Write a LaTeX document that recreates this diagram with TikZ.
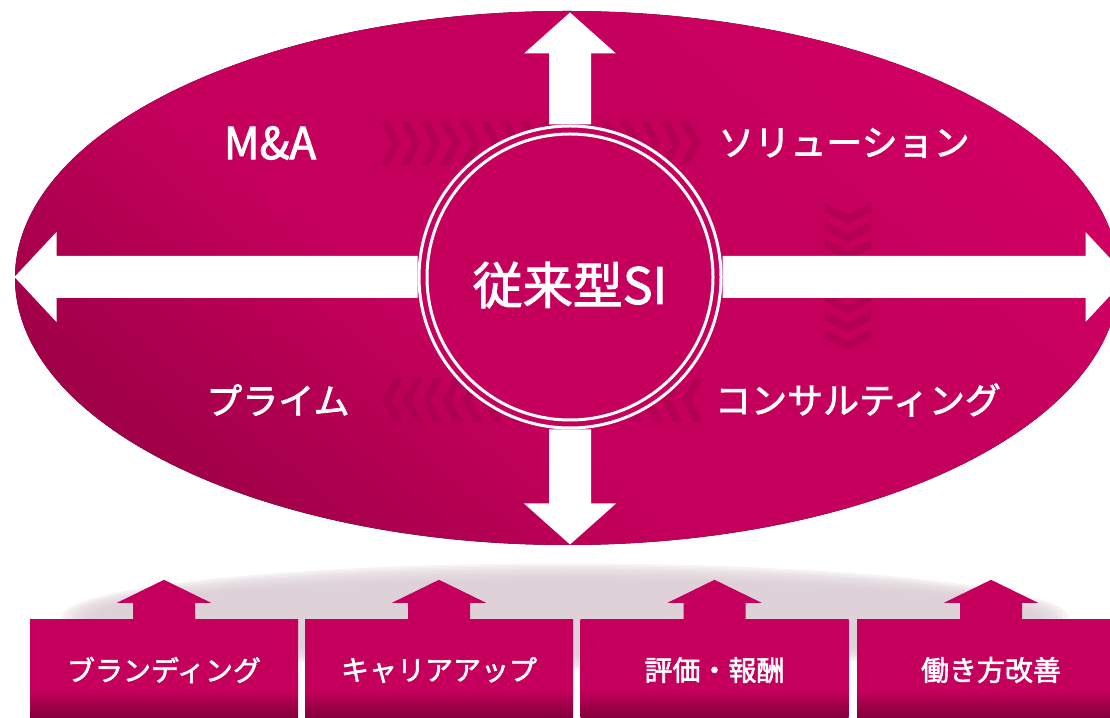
\documentclass[tikz,border=0pt]{standalone}
\usepackage{fontspec}
\setmainfont{Noto Sans CJK JP}[FakeBold=2]
\usetikzlibrary{positioning}

\definecolor{magmain}{RGB}{196,0,92}
\definecolor{magbright}{RGB}{208,0,98}
\definecolor{magdark}{RGB}{160,0,72}
\definecolor{magdeep}{RGB}{125,0,56}
\definecolor{shadowpink}{RGB}{218,204,212}

\pgfdeclareverticalshading{ovalshade}{100bp}{color(0bp)=(magdark); color(25bp)=(magdark);
  color(42bp)=(magmain); color(62bp)=(magmain); color(75bp)=(magbright); color(100bp)=(magbright)}
\pgfdeclareverticalshading{pillarshade}{100bp}{color(0bp)=(magdeep); color(25bp)=(magdeep);
  color(40bp)=(magmain); color(100bp)=(magmain)}

\def \ringsize {302pt}
\def \innersize {286pt}

% block arrow: [fill]{start}{angle}{length}{shaft half}{head half}{head length}
\newcommand{\blockarrow}[7][white]{%
  \fill[#1, shift={(#2)}, rotate=#3] (0,-#5) -- ({#4-#7},-#5) -- ({#4-#7},-#6) -- (#4,0)
    -- ({#4-#7},#6) -- ({#4-#7},#5) -- (0,#5) -- cycle;}

\begin{document}
\begin{tikzpicture}[x=1pt, y=1pt,
  lbl/.style={text=white, inner sep=0pt},
  ring/.style={circle, draw=white, line width=3pt, inner sep=0pt},
  pillar/.style={rectangle, minimum width=268pt, minimum height=100pt, inner sep=0pt,
    shading=pillarshade, text=white, font=\fontsize{28}{32}\selectfont},
  chev/.style={fill=magdark, opacity=0.45}]
\useasboundingbox (0,0) rectangle (1110,717);
\clip (0,0) rectangle (1110,717);

% oval
\fill[shading=ovalshade, shading angle=-40] (567,439) ellipse (552 and 267);

% chevrons
\foreach \x in {380,400,...,680}
  \fill[chev] (\x,596) -- (\x+9,596) -- (\x+21,574) -- (\x+9,552) -- (\x,552) -- (\x+12,574) -- cycle;
\foreach \x in {403,423,...,703}
  \fill[chev] (\x,339) -- (\x-9,339) -- (\x-21,317) -- (\x-9,295) -- (\x,295) -- (\x-12,317) -- cycle;
\foreach \y in {514,496,...,388}
  \fill[chev] (825,\y) -- (825,\y-9) -- (848,\y-21) -- (871,\y-9) -- (871,\y) -- (848,\y-12) -- cycle;

% core circle
\draw (570,440) node[ring, fill=magmain, minimum size=\ringsize] (core) {};
\draw (570,440) node[ring, minimum size=\innersize] (coreinner) {};
\draw (570,432) node[lbl, font=\fontsize{50}{56}\selectfont] (corelabel) {従来型SI};

% arrows out of the core
\blockarrow{core.north}{90}{112}{21}{46}{41}
\blockarrow{core.south}{-90}{115}{21}{46}{41}
\blockarrow{core.west}{180}{403}{21}{45}{42}
\blockarrow{core.east}{0}{405}{21}{45}{42}

% quadrant labels
\draw (270,574) node[lbl, font=\fontsize{44}{48}\selectfont] (ma) {M\&A};
\draw (844,574) node[lbl, font=\fontsize{36}{40}\selectfont] (solution) {ソリューション};
\draw (278,317) node[lbl, font=\fontsize{36}{40}\selectfont] (prime) {プライム};
\draw (858,317) node[lbl, font=\fontsize{36}{40}\selectfont] (consulting) {コンサルティング};

% shadow under the oval
\foreach \k in {0,...,7}
  \fill[shadowpink, opacity=0.25] (565,100) ellipse ({468+5*\k} and {36+2.5*\k});

% foundation boxes
\draw (164,47) node[pillar] (brand) {ブランディング};
\draw (439,47) node[pillar] (career) {キャリアアップ};
\draw (714.5,47) node[pillar] (reward) {評価・報酬};
\draw (991,47) node[pillar] (workstyle) {働き方改善};

\blockarrow[magmain]{brand.north}{90}{40}{31}{47}{23}
\blockarrow[magmain]{career.north}{90}{40}{31}{47}{23}
\blockarrow[magmain]{reward.north}{90}{40}{31}{47}{23}
\blockarrow[magmain]{workstyle.north}{90}{40}{31}{47}{23}
\end{tikzpicture}
\end{document}
